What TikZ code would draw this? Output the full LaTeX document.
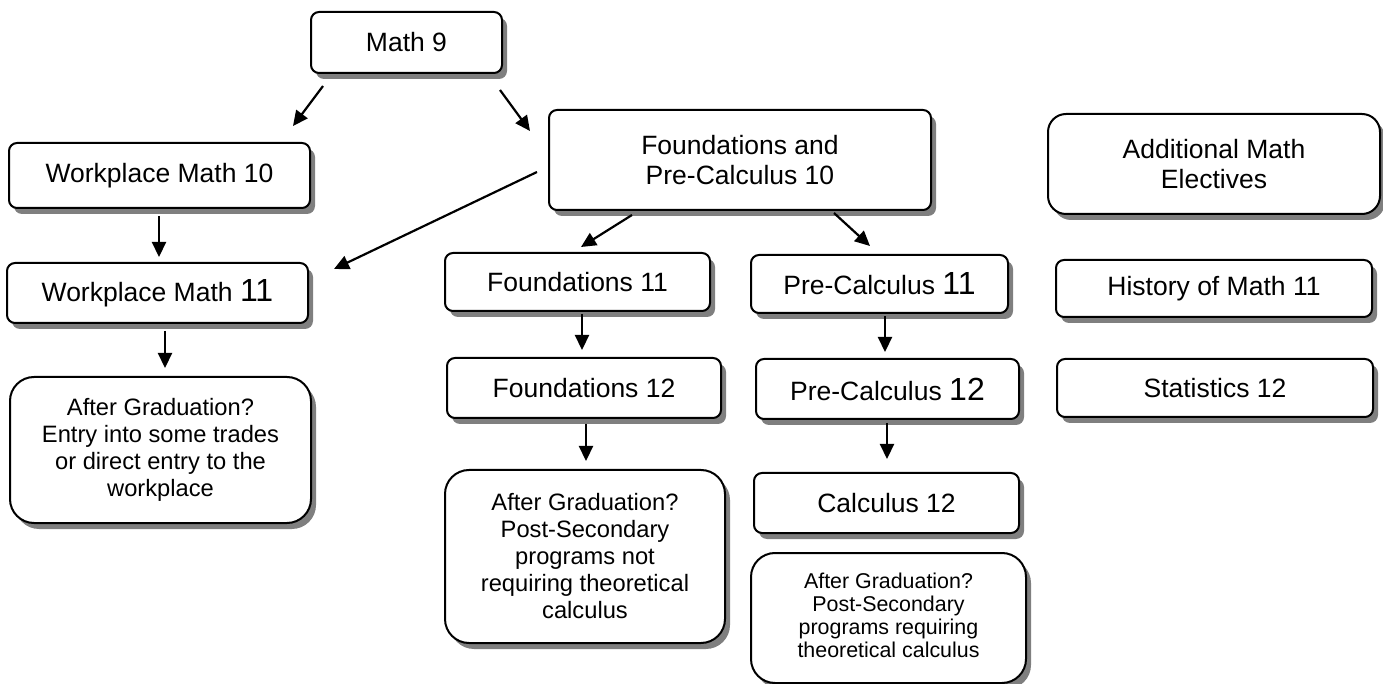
\documentclass[tikz,border=0pt]{standalone}
\usepackage{fontspec}
\setmainfont{Liberation Sans}
\usetikzlibrary{arrows.meta,shadows,calc}

\newcommand{\bignum}[1]{{\fontsize{16}{18}\selectfont #1}}

\begin{document}
\begin{tikzpicture}[x=0.5pt, y=-0.5pt,
    course/.style={draw, line width=1pt, rounded corners=4pt, fill=white, align=center, inner sep=0pt,
      font=\fontsize{13.25}{15}\selectfont,
      drop shadow={shadow xshift=2.5pt, shadow yshift=-3pt, fill=black, opacity=.5}},
    outcome/.style={course, rounded corners=12pt, font=\fontsize{11.85}{13.5}\selectfont},
    sz/.style 2 args={minimum width=#1*0.5pt, minimum height=#2*0.5pt},
    arr/.style={-{Triangle[length=7.5pt,width=7pt]}, line width=1.1pt}]
    \useasboundingbox (0,0) rectangle (1383,684);

    % Top of the chart
    \node[course, sz={191}{61}] (m9) at (406.5,42.5) {Math 9};
    \node[course, sz={301}{65}] (wm10) at (159.5,175.5) {Workplace Math 10};
    \node[course, sz={382}{100}] (fpc10) at (740,160) {Foundations and\\Pre-Calculus 10};
    \node[course, sz={332}{100}, rounded corners=9pt] (ame) at (1214,164) {Additional Math\\Electives};

    % Grade 11
    \node[course, sz={301}{60}] (wm11) at (157.5,293) {Workplace Math \bignum{11}};
    \node[course, sz={265}{58}] (f11) at (577.5,282) {Foundations 11};
    \node[course, sz={257}{58}] (pc11) at (879.5,284) {Pre-Calculus \bignum{11}};
    \node[course, sz={316}{57}] (hist) at (1214,288.5) {History of Math 11};

    % Grade 12
    \node[course, sz={274}{60}] (f12) at (584,388) {Foundations 12};
    \node[course, sz={263}{60}] (pc12) at (887.5,389) {Pre-Calculus \bignum{12}};
    \node[course, sz={316}{58}] (stat) at (1215,388) {Statistics 12};
    \node[course, sz={265}{60}] (calc) at (886.5,503) {Calculus 12};

    % After graduation
    \node[outcome, sz={301}{146}] (agw) at (160.5,450) {After Graduation?\\Entry into some trades\\or direct entry to the\\workplace};
    \node[outcome, sz={280}{173}] (agf) at (585,556.5) {After Graduation?\\Post-Secondary\\programs not\\requiring theoretical\\calculus};
    \node[outcome, sz={275}{130}, font=\fontsize{10.7}{11.5}\selectfont, text depth=3pt] (agc) at (888.5,618) {After Graduation?\\Post-Secondary\\programs requiring\\theoretical calculus};

    % Arrows
    \draw[arr] ($(m9.south west)+(13,12)$) -- ($(wm10.north east)+(-18,-16)$);
    \draw[arr] ($(m9.south east)+(-3,16)$) -- ($(fpc10.north west)+(-18,22)$);
    \draw[arr] ($(fpc10.west)+(-11,12)$) -- ($(wm11.north east)+(25,7)$);
    \draw[arr] ($(fpc10.south west)+(84,4)$) -- ($(f11.north)+(3.5,-5)$);
    \draw[arr] ($(fpc10.south east)+(-98,2)$) -- ($(pc11.north)+(-9.5,-8)$);
    \draw[arr] ($(wm10.south)+(-0.5,7)$) -- ($(wm11.north)+(1.5,-5)$);
    \draw[arr] ($(wm11.south)+(7.5,7)$) -- ($(agw.north)+(4.5,-8)$);
    \draw[arr] ($(f11.south)+(4.5,2)$) -- ($(f12.north)+(-2,-7)$);
    \draw[arr] ($(f12.south)+(2,5)$) -- ($(agf.north)+(1,-8)$);
    \draw[arr] ($(pc11.south)+(5.5,2)$) -- ($(pc12.north)+(-2.5,-6)$);
    \draw[arr] ($(pc12.south)+(-0.5,3)$) -- ($(calc.north)+(0.5,-13)$);
\end{tikzpicture}
\end{document}
